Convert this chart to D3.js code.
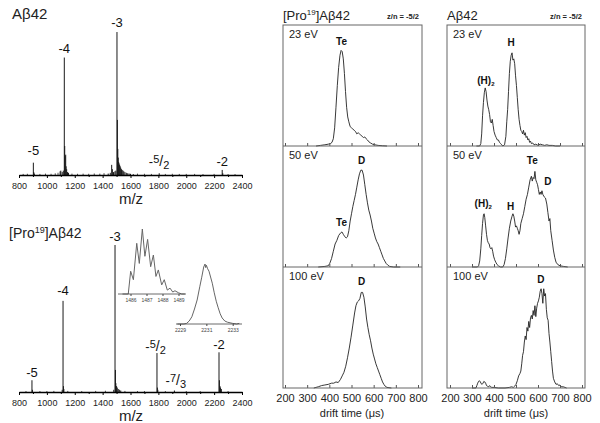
<!DOCTYPE html>
<html><head><meta charset="utf-8">
<script src="https://cdn.jsdelivr.net/npm/d3@7"></script>
<style>body{margin:0;background:#fff}svg{display:block;font-family:"Liberation Sans",Arial,sans-serif}</style>
</head><body><svg id="c" width="600" height="423"></svg>
<script>
// ---------- DATA ----------
const msTicks = [800,1000,1200,1400,1600,1800,2000,2200,2400];
const msMinor = [900,1100,1300,1500,1700,1900,2100,2300];
// Abeta42 spectrum: [m/z, relative intensity %]
const msTopPeaks = [[903,8.5],[906,2],[910,1],[1095,2.5],[1100,3],[1110,2],[1118,3],[1125,81],[1128,20],[1131,13],[1135,14],[1138,6],[1142,4],[1148,2],[1155,1.5],
 [1440,1],[1455,1.5],[1465,7],[1470,4],[1478,2],[1488,2.5],[1495,3],[1503,98.6],[1506,38],[1509,18],[1512,12],[1515,9],[1518,8],[1522,7],[1526,6],[1530,5],[1535,4],[1540,3.5],[1546,3],[1552,2.5],[1560,2],[1570,1.5],[1580,1.2],[1590,1],[1600,0.8],[1620,0.6],
 [1806,1.2],[2258,3.5],[2262,1.2]];
const msTopNoise = [[830,0.4],[860,0.5],[950,0.4],[990,0.6],[1030,0.5],[1060,0.8],[1080,1.2],[1180,0.6],[1220,0.5],[1260,0.6],[1300,0.5],[1340,0.7],[1380,0.6],[1410,0.9],[1650,0.6],[1700,0.5],[1750,0.4],[1850,0.4],[1900,0.5],[1950,0.4],[2000,0.4],[2060,0.4],[2120,0.3],[2200,0.4],[2300,0.3],[2350,0.3]];
const msTopLabels = [{t:"-5",mz:903,v:14},{t:"-4",mz:1125,v:84},{t:"-3",mz:1503,v:102},{t:"-5/2",mz:1805,v:6},{t:"-2",mz:2258,v:6}];
// [Pro19]Abeta42 spectrum
const msBotPeaks = [[893,8],[896,1.5],[1110,1.5],[1116,62],[1119,4],[1122,2],[1480,1.5],[1489,100],[1492,15],[1495,6],[1500,4],[1505,3],[1512,2],[1520,1.5],[1530,1],
 [1790,26.5],[1793,3],[1796,1.5],[1915,1],[2235,27],[2238,8],[2242,4],[2246,3],[2252,2]];
const msBotNoise = [[850,0.3],[950,0.3],[1000,0.3],[1050,0.4],[1150,0.4],[1250,0.3],[1350,0.4],[1420,0.5],[1560,0.4],[1650,0.3],[1700,0.3],[1850,0.3],[2000,0.3],[2100,0.3],[2300,0.3]];
const msBotLabels = [{t:"-5",mz:893,v:10},{t:"-4",mz:1116,v:66},{t:"-3",mz:1489,v:103},{t:"-5/2",mz:1780,v:28},{t:"-7/3",mz:1925,v:5},{t:"-2",mz:2235,v:29}];
// insets (isotope envelopes)
const inset1Ticks = [1486,1487,1488,1489];
const inset1 = [[1485.5,0],[1485.86,0],[1486.01,0.35],[1486.18,0.22],[1486.39,0.78],[1486.55,0.47],[1486.74,1.0],[1486.9,0.58],[1487.07,0.84],[1487.26,0.42],[1487.43,0.6],[1487.59,0.27],[1487.74,0.37],[1487.95,0.14],[1488.11,0.22],[1488.3,0.06],[1488.47,0.09],[1488.64,0.03],[1488.78,0.05],[1488.99,0.02],[1489.2,0],[1489.4,0]];
const inset2Ticks = [2229,2231,2233];
const inset2 = [[2228.8,0],[2229.3,0],[2229.5,0.01],[2229.7,0.05],[2229.9,0.12],[2230.1,0.25],[2230.3,0.4],[2230.5,0.62],[2230.65,0.78],[2230.8,0.95],[2230.9,1.0],[2230.95,0.94],[2231.0,0.98],[2231.1,0.92],[2231.2,0.88],[2231.3,0.8],[2231.45,0.68],[2231.6,0.52],[2231.75,0.38],[2231.9,0.27],[2232.05,0.17],[2232.2,0.1],[2232.4,0.05],[2232.6,0.03],[2232.8,0.02],[2233.0,0.01],[2233.3,0.0],[2233.5,0.01]];
// drift time arrival distributions: [drift time us, relative intensity]
const driftTicks = [200,300,400,500,600,700,800];
const energies = ["23 eV","50 eV","100 eV"];
const proAtd23 = [[340,0],[360,0.005],[380,0.01],[395,0.015],[405,0.02],[412,0.03],[418,0.06],[424,0.15],[430,0.32],[436,0.5],[442,0.65],[448,0.75],[453,0.79],[458,0.78],[463,0.72],[468,0.6],[473,0.45],[478,0.32],[483,0.24],[488,0.2],[494,0.16],[500,0.15],[506,0.14],[512,0.13],[518,0.12],[524,0.1],[530,0.11],[536,0.1],[542,0.09],[548,0.08],[554,0.07],[560,0.075],[566,0.06],[572,0.05],[578,0.035],[586,0.025],[595,0.015],[605,0.01],[620,0.005],[640,0.002],[660,0]];
const proAtd50 = [[350,0],[380,0.005],[395,0.01],[402,0.03],[410,0.07],[418,0.13],[426,0.19],[434,0.22],[442,0.26],[450,0.28],[457,0.29],[463,0.27],[470,0.25],[476,0.24],[482,0.25],[488,0.3],[494,0.38],[500,0.44],[506,0.5],[512,0.55],[518,0.6],[524,0.66],[530,0.72],[536,0.77],[542,0.8],[548,0.8],[554,0.76],[560,0.68],[566,0.6],[572,0.53],[578,0.47],[584,0.43],[590,0.38],[596,0.32],[602,0.28],[608,0.24],[614,0.21],[620,0.19],[626,0.16],[632,0.13],[638,0.1],[644,0.07],[650,0.05],[656,0.03],[664,0.015],[672,0.005],[690,0],[720,0]];
const proAtd100 = [[330,0],[350,0.01],[365,0.02],[380,0.025],[395,0.03],[410,0.04],[420,0.04],[430,0.05],[440,0.045],[450,0.07],[458,0.1],[466,0.13],[474,0.18],[482,0.25],[490,0.33],[498,0.42],[506,0.52],[514,0.62],[520,0.68],[526,0.71],[532,0.72],[538,0.74],[544,0.79],[550,0.79],[556,0.75],[562,0.67],[568,0.57],[574,0.5],[580,0.44],[586,0.39],[592,0.33],[598,0.28],[604,0.24],[610,0.2],[616,0.17],[622,0.14],[628,0.11],[634,0.08],[640,0.05],[646,0.03],[652,0.015],[660,0.005],[680,0]];
const wtAtd23 = [[320,0],[335,0],[340,0.02],[344,0.1],[348,0.25],[352,0.36],[356,0.44],[360,0.48],[364,0.45],[368,0.38],[372,0.33],[376,0.3],[380,0.26],[384,0.2],[388,0.19],[392,0.22],[396,0.17],[400,0.12],[405,0.09],[410,0.07],[415,0.05],[420,0.05],[425,0.03],[430,0.02],[435,0.01],[440,0],[448,0.01],[454,0.08],[458,0.2],[462,0.3],[466,0.45],[470,0.6],[474,0.7],[478,0.75],[482,0.77],[486,0.71],[490,0.72],[494,0.68],[498,0.58],[502,0.5],[506,0.4],[510,0.3],[514,0.22],[518,0.17],[522,0.13],[526,0.12],[530,0.1],[534,0.13],[538,0.09],[542,0.11],[546,0.07],[550,0.08],[554,0.05],[558,0.06],[562,0.03],[566,0.04],[570,0.02],[576,0.025],[582,0.01],[590,0.015],[600,0.005],[610,0.015],[620,0.01],[630,0.005],[640,0.01],[650,0.005],[665,0.005],[680,0],[700,0]];
const wtAtd50 = [[300,0],[325,0],[330,0.01],[335,0.05],[340,0.15],[344,0.26],[348,0.36],[352,0.43],[355,0.44],[358,0.41],[362,0.34],[366,0.27],[370,0.22],[374,0.2],[378,0.19],[382,0.16],[386,0.15],[390,0.16],[394,0.13],[398,0.09],[403,0.06],[408,0.04],[414,0.02],[420,0.01],[430,0],[440,0],[446,0.02],[452,0.07],[458,0.15],[464,0.24],[470,0.32],[476,0.38],[482,0.42],[486,0.44],[490,0.42],[494,0.38],[498,0.33],[502,0.34],[506,0.32],[510,0.3],[514,0.27],[518,0.3],[522,0.36],[528,0.4],[534,0.44],[540,0.5],[546,0.56],[552,0.6],[558,0.66],[564,0.72],[570,0.75],[574,0.71],[578,0.74],[582,0.73],[586,0.79],[590,0.72],[594,0.7],[598,0.68],[602,0.64],[606,0.6],[610,0.62],[614,0.6],[618,0.63],[622,0.6],[628,0.58],[634,0.57],[640,0.52],[645,0.45],[650,0.38],[654,0.4],[658,0.3],[664,0.22],[670,0.14],[676,0.08],[682,0.04],[690,0.02],[700,0.01],[715,0.005],[735,0]];
const wtAtd100 = [[300,0],[318,0],[322,0.02],[326,0.04],[330,0.055],[334,0.06],[338,0.05],[342,0.035],[346,0.03],[350,0.04],[354,0.055],[358,0.05],[362,0.04],[366,0.02],[370,0.015],[376,0.01],[380,0.02],[384,0.01],[390,0.005],[400,0.005],[420,0],[450,0],[470,0.005],[480,0.01],[488,0.005],[494,0.015],[500,0.03],[506,0.06],[512,0.1],[518,0.12],[522,0.14],[526,0.2],[530,0.27],[534,0.3],[538,0.38],[542,0.43],[546,0.4],[550,0.5],[554,0.47],[558,0.55],[562,0.5],[566,0.58],[570,0.6],[574,0.57],[578,0.64],[582,0.6],[586,0.68],[590,0.59],[594,0.66],[598,0.7],[602,0.72],[606,0.75],[610,0.8],[614,0.82],[618,0.78],[622,0.7],[626,0.82],[630,0.76],[634,0.78],[638,0.65],[642,0.58],[646,0.56],[650,0.45],[654,0.38],[658,0.3],[662,0.22],[666,0.14],[670,0.08],[676,0.05],[682,0.03],[688,0.035],[694,0.02],[700,0.025],[706,0.01],[715,0.01],[730,0]];
const proPeakLabels = [[{t:"Te",x:455,v:0.86}],[{t:"D",x:546,v:0.88},{t:"Te",x:455,v:0.36}],[{t:"D",x:546,v:0.88}]];
const wtPeakLabels = [[{t:"(H)2",x:363,v:0.54},{t:"H",x:478,v:0.85}],[{t:"(H)2",x:351,v:0.52},{t:"H",x:476,v:0.5},{t:"Te",x:574,v:0.88},{t:"D",x:645,v:0.7}],[{t:"D",x:613,v:0.89}]];

// ---------- DRAW ----------
const svg = d3.select("#c");
const FONT = '"Liberation Sans",Arial,sans-serif';

function chargeLabel(g, x, y, t){
  const txt = g.append("text").attr("x",x).attr("y",y).attr("text-anchor","middle").attr("font-size",13).attr("fill","#111");
  const m = t.match(/^-(\d)\/(\d)$/);
  if(m){
    txt.append("tspan").text("-");
    txt.append("tspan").attr("font-size",11).attr("dy",-3).text(m[1]);
    txt.append("tspan").attr("font-size",14).attr("dy",3).text("/");
    txt.append("tspan").attr("font-size",11).attr("dy",3).text(m[2]);
  } else txt.text(t);
}

function msPanel(peaks, noise, labels, y0, y100){
  const x = d3.scaleLinear().domain([800,2400]).range([19,242]);
  const y = d3.scaleLinear().domain([0,100]).range([y0,y100]);
  const g = svg.append("g");
  g.selectAll("line.n").data(noise).join("line")
    .attr("x1",d=>x(d[0])).attr("x2",d=>x(d[0])).attr("y1",y(0)).attr("y2",d=>y(d[1])-0.5)
    .attr("stroke","#222").attr("stroke-width",0.8);
  g.selectAll("line.p").data(peaks).join("line")
    .attr("x1",d=>x(d[0])).attr("x2",d=>x(d[0])).attr("y1",y(0)).attr("y2",d=>y(d[1]))
    .attr("stroke","#1a1a1a").attr("stroke-width",1);
  const ax = g.append("g").attr("transform",`translate(0,${y0})`)
    .call(d3.axisBottom(x).tickValues(msTicks).tickSize(3).tickSizeOuter(0).tickFormat(d3.format("d")));
  ax.select(".domain").attr("stroke","#000").attr("stroke-width",1.6);
  ax.selectAll(".tick line").attr("stroke","#000");
  ax.selectAll("text").attr("font-size",9).attr("font-family",FONT).attr("fill","#222").attr("dy","0.9em");
  g.append("g").attr("transform",`translate(0,${y0})`)
    .call(d3.axisBottom(x).tickValues(msMinor).tickSize(2).tickFormat(""))
    .select(".domain").remove();
  g.append("text").attr("x",131).attr("y",y0+29).attr("text-anchor","middle").attr("font-size",15).attr("fill","#222").text("m/z");
  labels.forEach(l=>chargeLabel(g, x(l.mz), y(l.v), l.t));
  return {x,y};
}
msPanel(msTopPeaks, msTopNoise, msTopLabels, 175, 30);
msPanel(msBotPeaks, msBotNoise, msBotLabels, 392, 245);

svg.append("text").attr("x",12).attr("y",19).attr("font-size",15).attr("fill","#222").text("Aβ42");
const pt = svg.append("text").attr("x",9).attr("y",238).attr("font-size",14).attr("fill","#222");
pt.append("tspan").text("[Pro");
pt.append("tspan").attr("font-size",9).attr("dy",-5).text("19");
pt.append("tspan").attr("dy",5).text("]Aβ42");

function inset(data, ticks, dom, xr, yBase, yTop, ax0, ax1){
  const x = d3.scaleLinear().domain(dom).range(xr);
  const y = d3.scaleLinear().domain([0,1]).range([yBase,yTop]);
  const g = svg.append("g");
  g.append("path").datum(data).attr("d",d3.line().x(d=>x(d[0])).y(d=>y(d[1])))
    .attr("fill","none").attr("stroke","#666").attr("stroke-width",1);
  g.append("line").attr("x1",ax0).attr("x2",ax1).attr("y1",yBase).attr("y2",yBase).attr("stroke","#444").attr("stroke-width",0.8);
  const a = g.append("g").attr("transform",`translate(0,${yBase})`)
    .call(d3.axisBottom(x).tickValues(ticks).tickSize(2).tickFormat(d3.format("d")));
  a.select(".domain").remove();
  a.selectAll(".tick line").attr("stroke","#444");
  a.selectAll("text").attr("font-size",5).attr("font-family",FONT).attr("fill","#444").attr("dy","0.6em");
}
inset(inset1, inset1Ticks, [1486,1489], [130.5,178.5], 294, 229, 118, 186);
inset(inset2, inset2Ticks, [2229,2233], [180,232.7], 324, 264, 176, 242);

// drift-time panels
const rowTops = [25,146,267], rowH = 121;
function driftColumn(boxX0, boxX1, sx0, sx1, series, peakLabels, titleParts, cx){
  const x = d3.scaleLinear().domain([200,800]).range([sx0,sx1]);
  const g = svg.append("g");
  series.forEach((s,i)=>{
    const top = rowTops[i], bot = top+rowH;
    const y = d3.scaleLinear().domain([0,1]).range([bot,top]);
    g.append("path").datum(s).attr("d",d3.line().x(d=>x(d[0])).y(d=>y(d[1])))
      .attr("fill","none").attr("stroke","#222").attr("stroke-width",0.9);
    const ax = g.append("g").attr("transform",`translate(0,${bot})`)
      .call(d3.axisTop(x).tickValues(driftTicks).tickSize(3).tickFormat(""));
    ax.select(".domain").remove();
    ax.selectAll(".tick line").attr("stroke","#555");
    g.append("text").attr("x",boxX0+6).attr("y",top+13).attr("font-size",11).attr("fill","#222").text(energies[i]);
    peakLabels[i].forEach(l=>{
      const t = g.append("text").attr("x",x(l.x)).attr("y",y(l.v)+3).attr("text-anchor","middle")
        .attr("font-size",10).attr("font-weight","bold").attr("fill","#111");
      if(l.t==="(H)2"){ t.append("tspan").text("(H)"); t.append("tspan").attr("font-size",6).attr("dy",2).text("2"); }
      else t.text(l.t);
    });
    if(i<2) g.append("line").attr("x1",boxX0).attr("x2",boxX1).attr("y1",bot).attr("y2",bot).attr("stroke","#666").attr("stroke-width",1);
  });
  g.append("rect").attr("x",boxX0).attr("y",rowTops[0]).attr("width",boxX1-boxX0).attr("height",rowH*3)
    .attr("fill","none").attr("stroke","#666").attr("stroke-width",1);
  const bx = g.append("g").attr("transform",`translate(0,${rowTops[0]+3*rowH})`)
    .call(d3.axisBottom(x).tickValues(driftTicks).tickSize(0).tickPadding(6).tickFormat(d3.format("d")));
  bx.select(".domain").remove();
  bx.selectAll("text").attr("font-size",11).attr("font-family",FONT).attr("fill","#222");
  g.append("text").attr("x",cx).attr("y",417).attr("text-anchor","middle").attr("font-size",11).attr("fill","#222").text("drift time (μs)");
  const tt = g.append("text").attr("x",boxX0).attr("y",20).attr("font-size",13).attr("fill","#222");
  titleParts(tt);
  g.append("text").attr("x",boxX1-3).attr("y",19).attr("text-anchor","end").attr("font-size",7.5).attr("font-weight","bold").attr("fill","#222").text("z/n = -5/2");
}
driftColumn(283,422,285,418,[proAtd23,proAtd50,proAtd100],proPeakLabels,t=>{
  t.append("tspan").text("[Pro"); t.append("tspan").attr("font-size",8).attr("dy",-5).text("19"); t.append("tspan").attr("dy",5).text("]Aβ42");
},352);
driftColumn(447,585,450,582,[wtAtd23,wtAtd50,wtAtd100],wtPeakLabels,t=>{ t.text("Aβ42"); },516);
</script></body></html>
